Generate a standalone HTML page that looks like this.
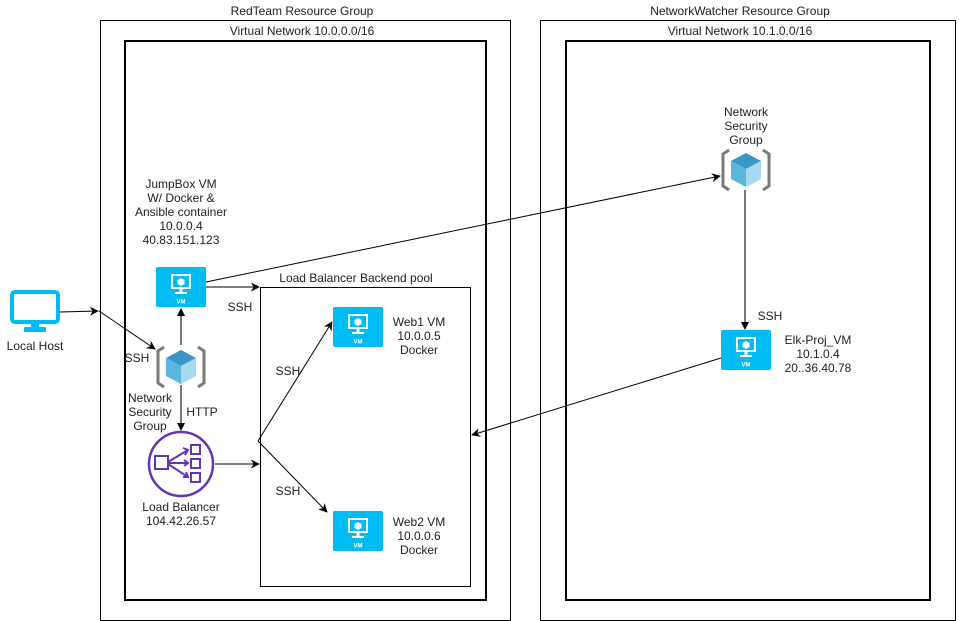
<!DOCTYPE html>
<html><head><meta charset="utf-8"><style>
html,body{margin:0;padding:0;background:#fff;width:959px;height:621px;overflow:hidden}
svg{display:block}
text{font-family:"Liberation Sans",Arial,sans-serif;font-size:12px;fill:#222}
</style></head><body>
<svg width="959" height="621" viewBox="0 0 959 621" xmlns="http://www.w3.org/2000/svg">
<defs>
<marker id="ar" viewBox="0 0 10 10" refX="9" refY="5" markerWidth="9" markerHeight="9" orient="auto" markerUnits="userSpaceOnUse"><path d="M0,0 L10,5 L0,10 L3,5 z" fill="#000"/></marker>
<g id="vm">
<rect x="0" y="0" width="50" height="40" rx="2" fill="#00bcf2"/>
<rect x="15" y="7" width="20" height="15" fill="#fff"/>
<rect x="17" y="9" width="16" height="11" fill="#00bcf2"/>
<path d="M25,11 l3.5,2 v4 l-3.5,2 l-3.5,-2 v-4z" fill="#fff"/>
<rect x="23.5" y="22" width="3" height="3" fill="#fff"/>
<rect x="19" y="25" width="12" height="2" fill="#fff"/>
<text x="25" y="36.5" text-anchor="middle" style="font-size:6px;fill:#fff;font-weight:bold">VM</text>
</g>
<g id="nsg">
<path d="M8,2 L2,6 V38 L8,42" fill="none" stroke="#7a7a7a" stroke-width="3"/>
<path d="M42,2 L48,6 V38 L42,42" fill="none" stroke="#7a7a7a" stroke-width="3"/>
<path d="M25,5 L40,13 L25,21 L10,13z" fill="#3a96c8"/>
<path d="M10,13 L25,21 V39 L10,31z" fill="#5bb5dc"/>
<path d="M40,13 L25,21 V39 L40,31z" fill="#a9d9ef"/>
</g>
</defs>

<!-- groups -->
<rect x="100.5" y="20.5" width="410" height="600" fill="none" stroke="#000"/>
<rect x="125" y="41" width="361" height="559" fill="none" stroke="#000" stroke-width="2"/>
<rect x="540.5" y="20.5" width="415" height="600" fill="none" stroke="#000"/>
<rect x="566" y="41" width="364" height="559" fill="none" stroke="#000" stroke-width="2"/>
<text x="302" y="15" text-anchor="middle">RedTeam Resource Group</text>
<text x="302" y="35" text-anchor="middle">Virtual Network 10.0.0.0/16</text>
<text x="740" y="15" text-anchor="middle">NetworkWatcher Resource Group</text>
<text x="740" y="35" text-anchor="middle">Virtual Network 10.1.0.0/16</text>

<rect x="260.5" y="287.5" width="210" height="299" fill="none" stroke="#000"/>
<text x="356" y="282" text-anchor="middle">Load Balancer Backend pool</text>

<!-- local host -->
<rect x="12" y="292" width="46" height="30" rx="3" fill="none" stroke="#00bcf2" stroke-width="4"/>
<rect x="31" y="322" width="8" height="6" fill="#00bcf2"/>
<rect x="24" y="327" width="22" height="5" rx="1" fill="#00bcf2"/>
<text x="35" y="350" text-anchor="middle">Local Host</text>

<!-- JumpBox -->
<text x="181" y="188" text-anchor="middle">JumpBox VM</text>
<text x="181" y="202" text-anchor="middle">W/ Docker &amp;</text>
<text x="181" y="216" text-anchor="middle">Ansible container</text>
<text x="181" y="230" text-anchor="middle">10.0.0.4</text>
<text x="181" y="244" text-anchor="middle">40.83.151.123</text>
<use href="#vm" x="156" y="267"/>

<!-- left NSG -->
<use href="#nsg" x="156" y="345"/>
<text x="137" y="362" text-anchor="middle">SSH</text>
<text x="150" y="402" text-anchor="middle">Network</text>
<text x="150" y="416" text-anchor="middle">Security</text>
<text x="150" y="430" text-anchor="middle">Group</text>
<text x="202" y="416" text-anchor="middle">HTTP</text>

<!-- LB -->
<circle cx="181" cy="464" r="32" fill="none" stroke="#6236b4" stroke-width="2.5"/>
<rect x="155" y="456" width="13" height="13" fill="none" stroke="#6236b4" stroke-width="2"/>
<rect x="191" y="445" width="9" height="9" fill="none" stroke="#6236b4" stroke-width="2"/>
<rect x="191" y="459" width="9" height="9" fill="none" stroke="#6236b4" stroke-width="2"/>
<rect x="191" y="473" width="9" height="9" fill="none" stroke="#6236b4" stroke-width="2"/>
<path d="M168,462 L188,450 M168,463 H188 M168,464 L188,477 M183,448 L188,450 L185,455 M184,460 L188,463 L184,466 M183,477 L188,477 L186,472" fill="none" stroke="#6236b4" stroke-width="2"/>
<text x="181" y="511" text-anchor="middle">Load Balancer</text>
<text x="181" y="525" text-anchor="middle">104.42.26.57</text>

<!-- web VMs -->
<use href="#vm" x="333" y="307"/>
<text x="419" y="326" text-anchor="middle">Web1 VM</text>
<text x="419" y="340" text-anchor="middle">10.0.0.5</text>
<text x="419" y="354" text-anchor="middle">Docker</text>
<use href="#vm" x="333" y="511"/>
<text x="419" y="526" text-anchor="middle">Web2 VM</text>
<text x="419" y="540" text-anchor="middle">10.0.0.6</text>
<text x="419" y="554" text-anchor="middle">Docker</text>

<!-- right NSG -->
<text x="746" y="116" text-anchor="middle">Network</text>
<text x="746" y="130" text-anchor="middle">Security</text>
<text x="746" y="144" text-anchor="middle">Group</text>
<use href="#nsg" x="721" y="148"/>

<!-- Elk -->
<use href="#vm" x="721" y="330"/>
<text x="818" y="344" text-anchor="middle">Elk-Proj_VM</text>
<text x="818" y="358" text-anchor="middle">10.1.0.4</text>
<text x="818" y="372" text-anchor="middle">20..36.40.78</text>

<!-- connectors -->
<g fill="none" stroke="#000" stroke-width="1">
<path d="M60,312 L98,311" marker-end="url(#ar)"/>
<path d="M99,311 L155,349" marker-end="url(#ar)"/>
<path d="M206,287 H259" marker-end="url(#ar)"/>
<path d="M215,464 H259" marker-end="url(#ar)"/>
<path d="M258,441 L332,322" marker-end="url(#ar)"/>
<path d="M258,441 L327,512" marker-end="url(#ar)"/>
<path d="M206,282 L720,176" marker-end="url(#ar)"/>
<path d="M721,358 L472,435" marker-end="url(#ar)"/>
</g>
<g fill="none" stroke="#777" stroke-width="2">
<path d="M181,345 V310"/>
<path d="M181,385 V428"/>
<path d="M745,190 V326"/>
</g>
<path d="M181,308 l-4,8 h8z" fill="#000"/>
<path d="M181,431 l-4,-8 h8z" fill="#000"/>
<path d="M745,330 l-4,-8 h8z" fill="#000"/>
<text x="240" y="311" text-anchor="middle">SSH</text>
<text x="288" y="375" text-anchor="middle">SSH</text>
<text x="288" y="495" text-anchor="middle">SSH</text>
<text x="770" y="320" text-anchor="middle">SSH</text>
</svg>
</body></html>
